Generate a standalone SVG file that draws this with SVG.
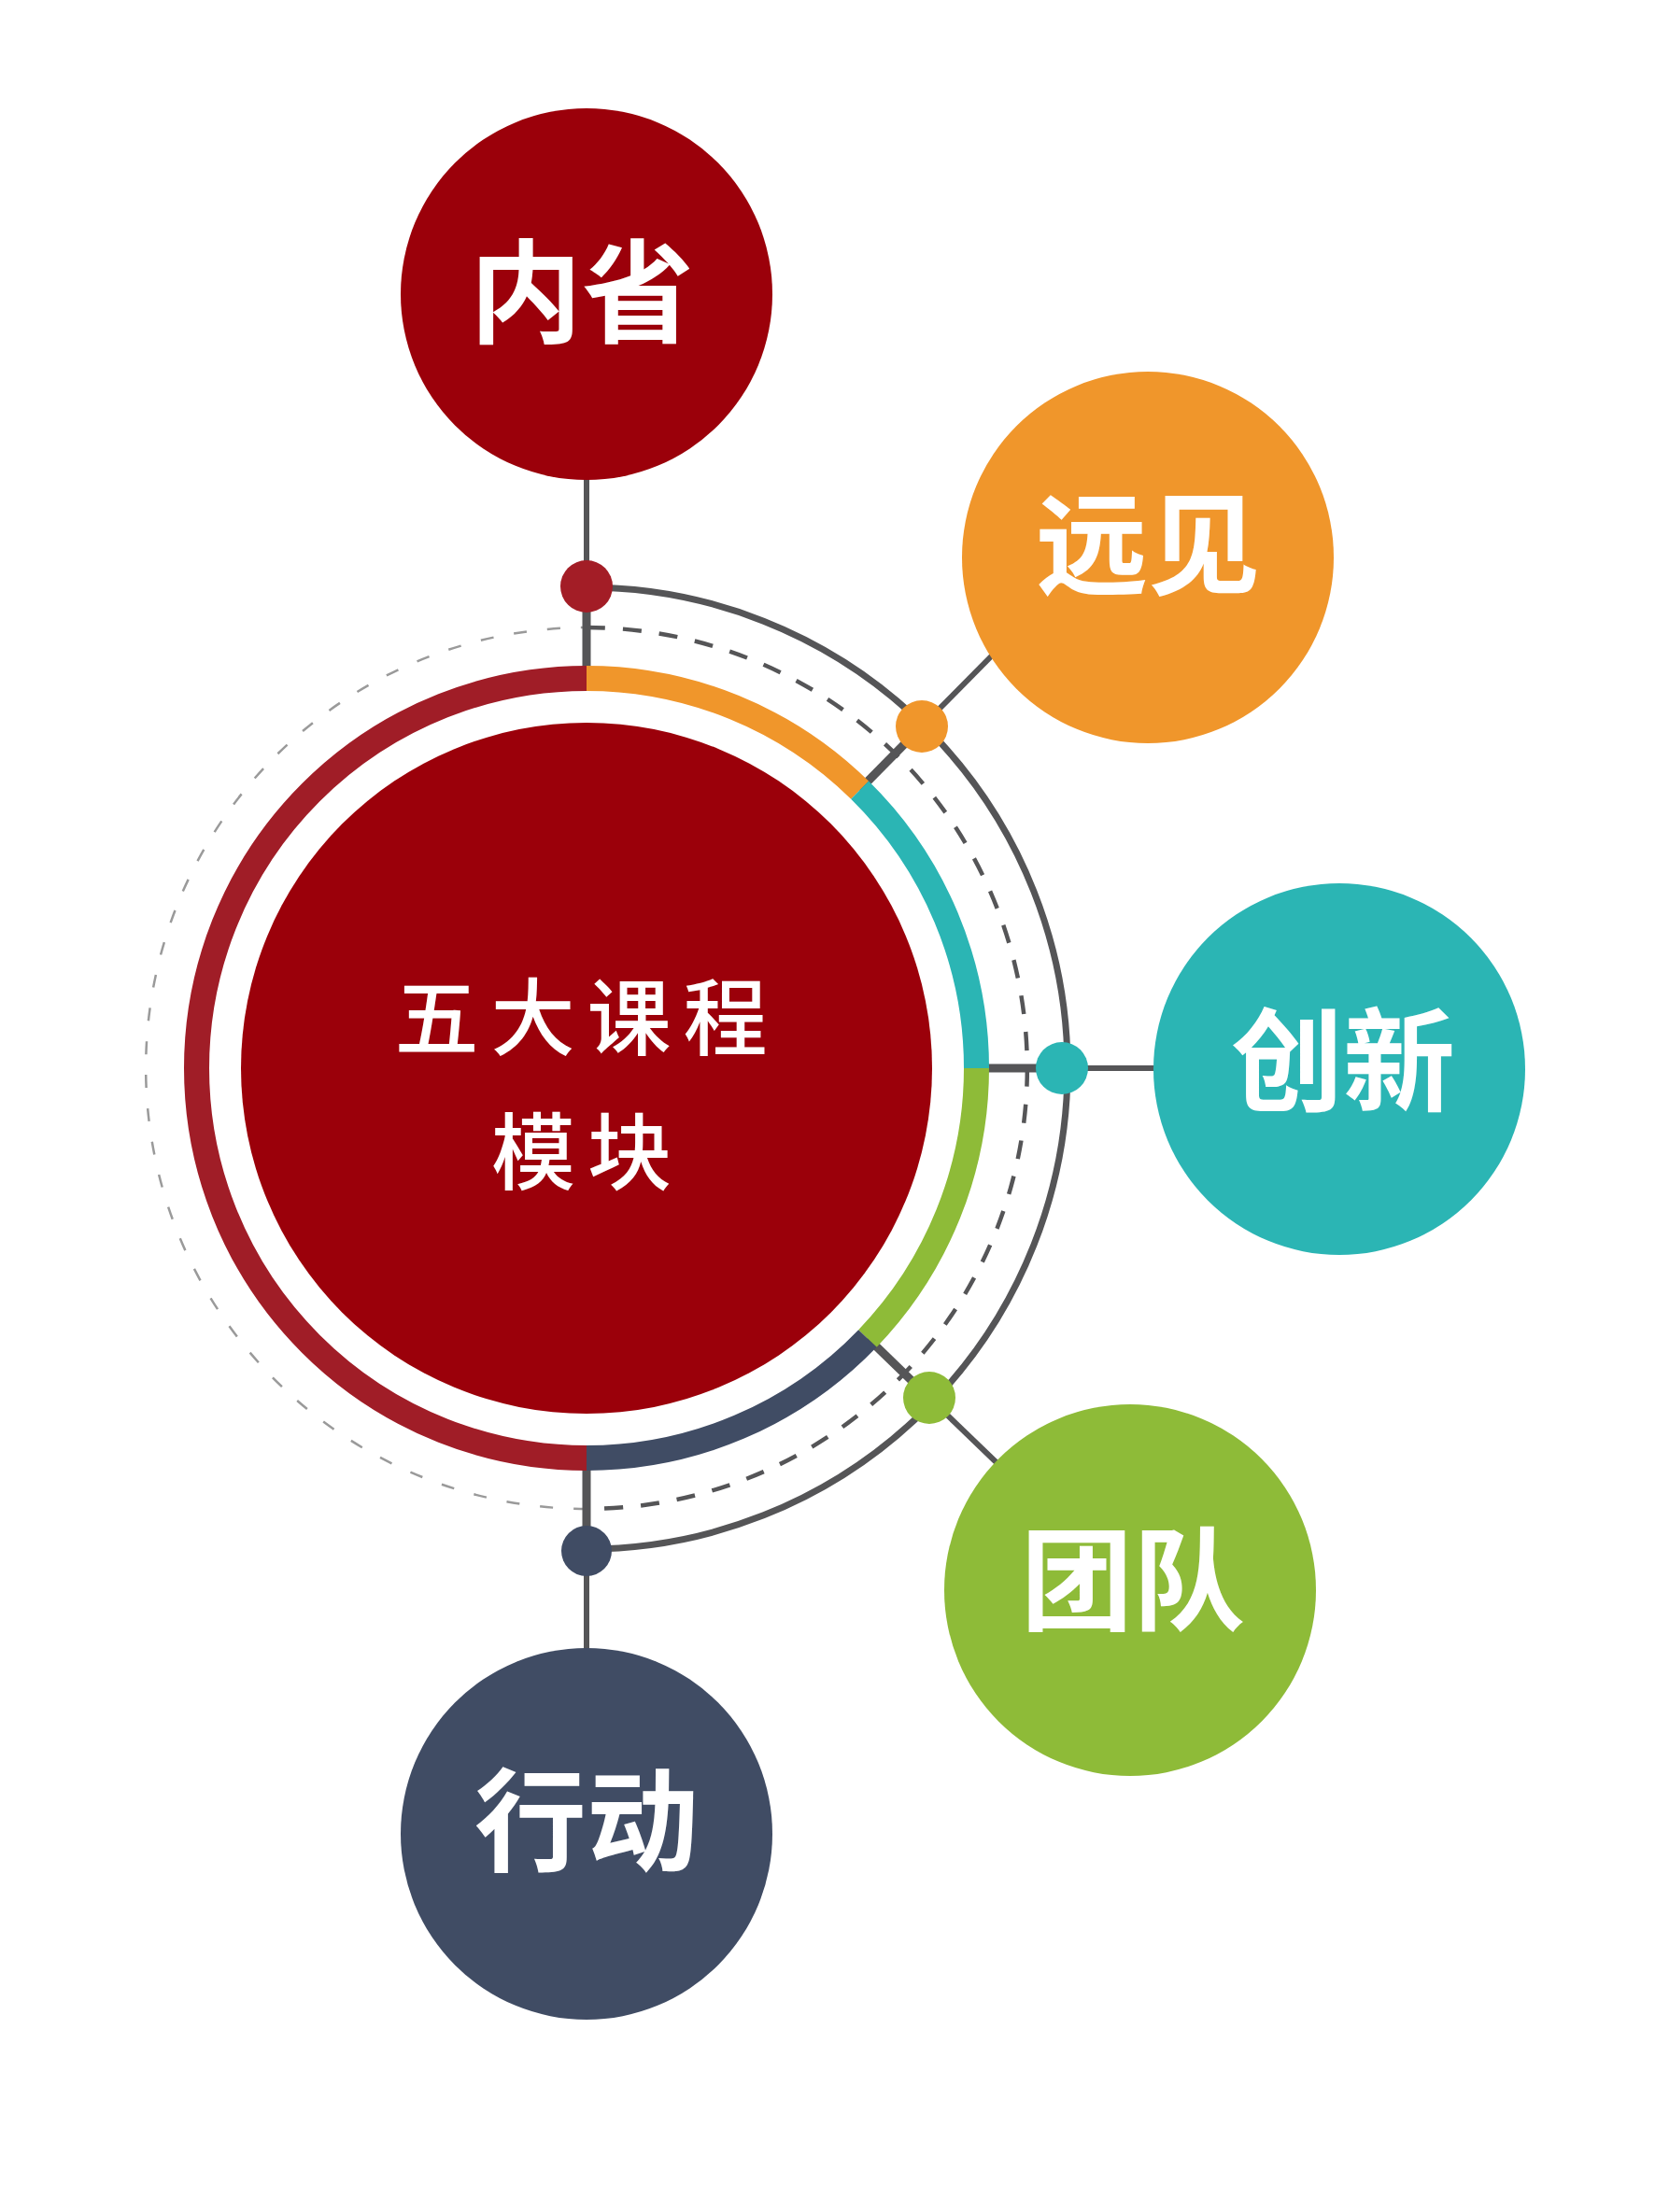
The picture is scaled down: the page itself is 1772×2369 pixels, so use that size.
<svg xmlns="http://www.w3.org/2000/svg" width="1772" height="2369" viewBox="0 0 1772 2369">
  <style>
    .link { stroke: #555557; fill: none; stroke-linecap: butt; }
    .inner { stroke-width: 9; }
    .outer { stroke-width: 6; }
    .ring { fill: none; stroke-width: 27; stroke-linecap: butt; }
    .label { font-family: "Noto Sans CJK SC", "Noto Sans", sans-serif; font-weight: 700; font-size: 120px; fill: #ffffff; text-anchor: middle; }
    .title { font-family: "Noto Sans CJK SC", "Noto Sans", sans-serif; font-weight: 500; font-size: 90px; fill: #ffffff; text-anchor: middle; letter-spacing: 13px; }
  </style>
  <rect width="1772" height="2369" fill="#ffffff"/>

  <g id="connectors">
    <!-- outer grey arc -->
    <path class="link" stroke-width="7" d="M 628 629 A 515 515 0 0 1 628 1659"/>
    <!-- dashed circle -->
    <path fill="none" stroke="#555557" stroke-width="4.5" stroke-dasharray="20 19" d="M 628 672 A 472 472 0 0 1 628 1616"/>
    <path fill="none" stroke="#9a9a9a" stroke-width="2.5" stroke-dasharray="14 22" d="M 628 1616 A 472 472 0 0 1 628 672"/>
    <!-- 内省 -->
    <line class="link outer" x1="628" y1="505" x2="628" y2="628"/>
    <line class="link inner" x1="628" y1="628" x2="628" y2="735"/>
    <!-- 远见 -->
    <line class="link inner" x1="920" y1="846" x2="987" y2="778"/>
    <line class="link outer" x1="987" y1="778" x2="1075" y2="689"/>
    <!-- 创新 -->
    <line class="link inner" x1="1045" y1="1144" x2="1137" y2="1144"/>
    <line class="link outer" x1="1137" y1="1144" x2="1245" y2="1144"/>
    <!-- 团队 -->
    <line class="link inner" x1="929" y1="1433" x2="995" y2="1497"/>
    <line class="link outer" x1="995" y1="1497" x2="1078" y2="1577"/>
    <!-- 行动 -->
    <line class="link inner" x1="628" y1="1555" x2="628" y2="1661"/>
    <line class="link outer" x1="628" y1="1661" x2="628" y2="1775"/>
  </g>

  <g id="ring">
    <path class="ring" stroke="#A01D27" d="M 628 1561.5 A 417.5 417.5 0 0 1 628 726.5"/>
    <path class="ring" stroke="#F0962B" d="M 628 726.5 A 417.5 417.5 0 0 1 920.6 846.2"/>
    <path class="ring" stroke="#2BB5B4" d="M 920.6 846.2 A 417.5 417.5 0 0 1 1045.5 1144"/>
    <path class="ring" stroke="#8EBB38" d="M 1045.5 1144 A 417.5 417.5 0 0 1 928.9 1433.5"/>
    <path class="ring" stroke="#404C64" d="M 928.9 1433.5 A 417.5 417.5 0 0 1 628 1561.5"/>
  </g>

  <g id="center">
    <circle cx="628" cy="1144" r="370" fill="#9B000A"/>
    <text class="title" x="628.5" y="1123">五大课程</text>
    <text class="title" x="629" y="1267">模块</text>
  </g>

  <g id="dots">
    <circle cx="628" cy="628" r="28" fill="#A31D26"/>
    <circle cx="987" cy="778" r="28" fill="#F0962B"/>
    <circle cx="1137" cy="1144" r="28" fill="#2BB5B4"/>
    <circle cx="995" cy="1497" r="28" fill="#8EBB38"/>
    <circle cx="628" cy="1661" r="27" fill="#404C64"/>
  </g>

  <g id="node-neixing">
    <circle cx="628" cy="315" r="199" fill="#9B000A"/>
    <text class="label" x="623" y="358">内省</text>
  </g>
  <g id="node-yuanjian">
    <circle cx="1229" cy="597" r="199" fill="#F0962B"/>
    <text class="label" x="1229" y="628">远见</text>
  </g>
  <g id="node-chuangxin">
    <circle cx="1434" cy="1145" r="199" fill="#2BB5B4"/>
    <text class="label" x="1438" y="1181">创新</text>
  </g>
  <g id="node-tuandui">
    <circle cx="1210" cy="1703" r="199" fill="#8EBB38"/>
    <text class="label" x="1213" y="1737">团队</text>
  </g>
  <g id="node-xingdong">
    <circle cx="628" cy="1964" r="199" fill="#404C64"/>
    <text class="label" x="628" y="1995">行动</text>
  </g>
</svg>
